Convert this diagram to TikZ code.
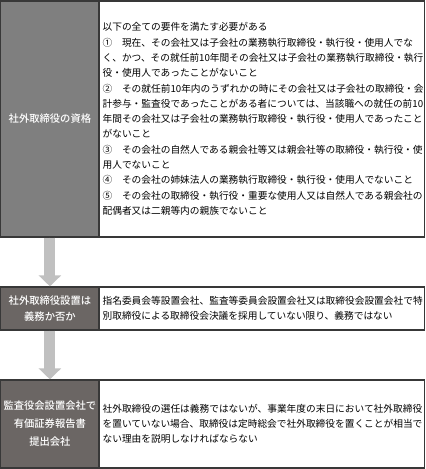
\documentclass[tikz,border=0pt]{standalone}
\usepackage{fontspec}
\setmainfont{Noto Sans CJK JP}
\newfontfamily\headfont{Noto Sans CJK JP Medium}
\usepackage{tikz}
\usetikzlibrary{arrows.meta}
\usetikzlibrary{positioning}
\definecolor{framec}{HTML}{383838}
\definecolor{headgray}{HTML}{7F7F7F}
\definecolor{headdark}{HTML}{6B6664}
\definecolor{flowgray}{HTML}{C0C0C0}
\tikzset{
  head/.style={draw=framec, line width=1.3bp, text=white, inner sep=0pt,
    minimum width=98.2bp, align=center,
    font=\headfont\fontsize{10.3bp}{16bp}\selectfont},
  cell/.style={draw=framec, line width=1.3bp, fill=white, inner xsep=3bp,
    minimum width=325.2bp, text width=318bp, align=left,
    font=\fontsize{9.7bp}{15.3bp}\selectfont},
  flow/.style={draw=flowgray, fill=flowgray, line width=11bp,
    -{Triangle[width=22bp,length=11bp]}}
}

\begin{document}
\begin{tikzpicture}[x=1bp, y=-1bp]
    \useasboundingbox (0,0) rectangle (425,469);
    % row 1
    \node[head, fill=headgray, minimum height=236bp] (qual) at (49.9,119) {社外取締役の資格};
    \node[cell, minimum height=236bp] (qualtext) at (261.6,119) {%
      以下の全ての要件を満たす必要がある\\
      ①　現在、その会社又は子会社の業務執行取締役・執行役・使用人でな\\
      く、かつ、その就任前10年間その会社又は子会社の業務執行取締役・執行\\
      役・使用人であったことがないこと\\
      ②　その就任前10年内のうずれかの時にその会社又は子会社の取締役・会\\
      計参与・監査役であったことがある者については、当該職への就任の前10\\
      年間その会社又は子会社の業務執行取締役・執行役・使用人であったこと\\
      がないこと\\
      ③　その会社の自然人である親会社等又は親会社等の取締役・執行役・使\\
      用人でないこと\\
      ④　その会社の姉妹法人の業務執行取締役・執行役・使用人でないこと\\
      ⑤　その会社の取締役・執行役・重要な使用人又は自然人である親会社の\\
      配偶者又は二親等内の親族でないこと\par\vspace{14bp}};
    % row 2
    \node[head, fill=headdark, minimum height=43bp] (setup) at (49.9,308.5) {社外取締役設置は\\義務か否か};
    \node[cell, minimum height=43bp] (setuptext) at (261.6,308.5) {%
      指名委員会等設置会社、監査等委員会設置会社又は取締役会設置会社で特\\
      別取締役による取締役会決議を採用していない限り、義務ではない};
    % row 3
    \node[head, fill=headdark, minimum height=88bp] (report) at (49.9,424) {監査役会設置会社で\\[2bp]有価証券報告書\\[2bp]提出会社};
    \node[cell, minimum height=88bp] (reporttext) at (261.6,424) {%
      社外取締役の選任は義務ではないが、事業年度の末日において社外取締役\\
      を置いていない場合、取締役は定時総会で社外取締役を置くことが相当で\\
      ない理由を説明しなければならない};
    \draw [flow] (qual) -- (setup);
    \draw [flow] (setup) -- (report);
  \end{tikzpicture}
\end{document}
